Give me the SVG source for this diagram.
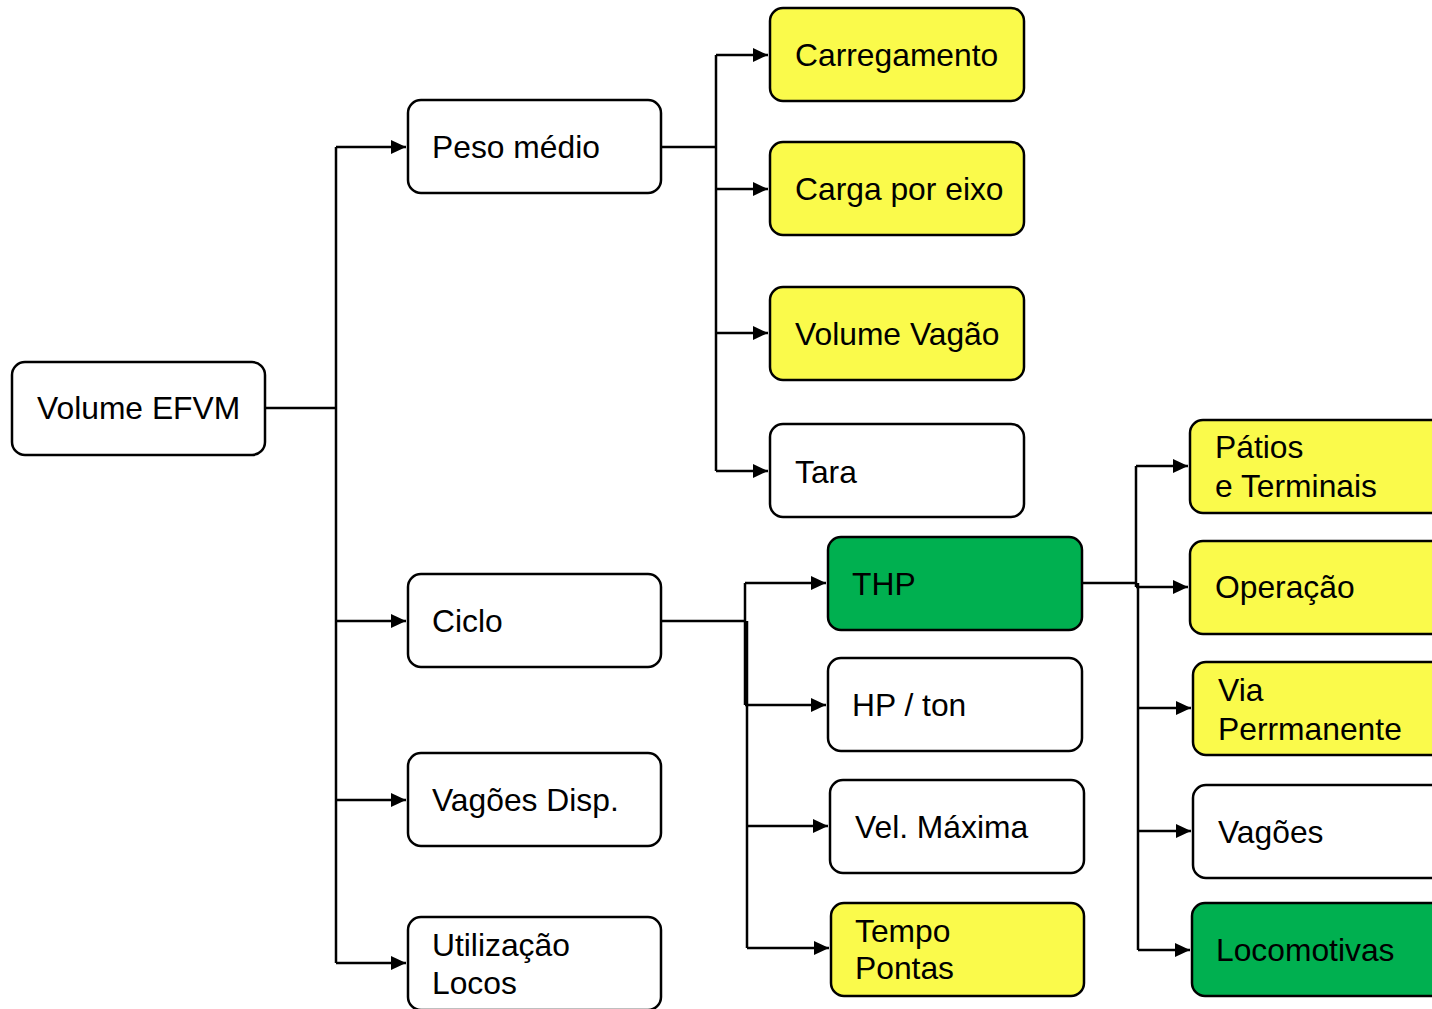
<svg xmlns="http://www.w3.org/2000/svg" width="1432" height="1009" viewBox="0 0 1432 1009">
<defs>
<marker id="arr" markerWidth="15" markerHeight="14" refX="15" refY="7" orient="auto" markerUnits="userSpaceOnUse">
<path d="M0,0 L15,7 L0,14 Z" fill="#000"/>
</marker>
<style>
.box{stroke:#000;stroke-width:2.5;fill:#fff}
.y{fill:#FAFA4B}
.g{fill:#00B050}
text{font-family:"Liberation Sans",Arial,sans-serif;font-size:31.8px;fill:#000}
.c{fill:none;stroke:#000;stroke-width:2.5}
</style>
</defs>
<rect width="1432" height="1009" fill="#fff"/>
<g id="connectors">
<path class="c" d="M265,408 H336 M336,147 V963"/>
<path class="c" d="M336,147 H406" marker-end="url(#arr)"/>
<path class="c" d="M336,621 H406" marker-end="url(#arr)"/>
<path class="c" d="M336,800 H406" marker-end="url(#arr)"/>
<path class="c" d="M336,963 H406" marker-end="url(#arr)"/>
<path class="c" d="M661,147 H716 M716,55 V471"/>
<path class="c" d="M716,55 H768" marker-end="url(#arr)"/>
<path class="c" d="M716,189 H768" marker-end="url(#arr)"/>
<path class="c" d="M716,333 H768" marker-end="url(#arr)"/>
<path class="c" d="M716,471 H768" marker-end="url(#arr)"/>
<path class="c" d="M661,621 H746 M745,583 V705 M747,621 V948"/>
<path class="c" d="M745,583 H826" marker-end="url(#arr)"/>
<path class="c" d="M745,705 H826" marker-end="url(#arr)"/>
<path class="c" d="M747,826 H828" marker-end="url(#arr)"/>
<path class="c" d="M747,948 H829" marker-end="url(#arr)"/>
<path class="c" d="M1082,583 H1137 M1136,466 V587 M1138,583 V950"/>
<path class="c" d="M1136,466 H1188" marker-end="url(#arr)"/>
<path class="c" d="M1136,587 H1188" marker-end="url(#arr)"/>
<path class="c" d="M1138,708 H1191" marker-end="url(#arr)"/>
<path class="c" d="M1138,831 H1191" marker-end="url(#arr)"/>
<path class="c" d="M1138,950 H1190" marker-end="url(#arr)"/>
</g>
<g id="n-volume-efvm"><rect class="box" x="12" y="362" width="253" height="93" rx="13"/><text x="37" y="419">Volume EFVM</text></g>
<g id="n-peso-medio"><rect class="box" x="408" y="100" width="253" height="93" rx="13"/><text x="432" y="158">Peso médio</text></g>
<g id="n-ciclo"><rect class="box" x="408" y="574" width="253" height="93" rx="13"/><text x="432" y="632">Ciclo</text></g>
<g id="n-vagoes-disp"><rect class="box" x="408" y="753" width="253" height="93" rx="13"/><text x="432" y="811">Vagões Disp.</text></g>
<g id="n-utilizacao-locos"><rect class="box" x="408" y="917" width="253" height="93" rx="13"/><text x="432" y="956">Utilização</text><text x="432" y="994">Locos</text></g>
<g id="n-carregamento"><rect class="box y" x="770" y="8" width="254" height="93" rx="13"/><text x="795" y="66">Carregamento</text></g>
<g id="n-carga-por-eixo"><rect class="box y" x="770" y="142" width="254" height="93" rx="13"/><text x="795" y="200">Carga por eixo</text></g>
<g id="n-volume-vagao"><rect class="box y" x="770" y="287" width="254" height="93" rx="13"/><text x="795" y="345">Volume Vagão</text></g>
<g id="n-tara"><rect class="box" x="770" y="424" width="254" height="93" rx="13"/><text x="795" y="483">Tara</text></g>
<g id="n-thp"><rect class="box g" x="828" y="537" width="254" height="93" rx="13"/><text x="852" y="595">THP</text></g>
<g id="n-hp-ton"><rect class="box" x="828" y="658" width="254" height="93" rx="13"/><text x="852" y="716">HP / ton</text></g>
<g id="n-vel-maxima"><rect class="box" x="830" y="780" width="254" height="93" rx="13"/><text x="855" y="838">Vel. Máxima</text></g>
<g id="n-tempo-pontas"><rect class="box y" x="831" y="903" width="253" height="93" rx="13"/><text x="855" y="942">Tempo</text><text x="855" y="979">Pontas</text></g>
<g id="n-patios"><rect class="box y" x="1190" y="420" width="270" height="93" rx="13"/><text x="1215" y="458">Pátios</text><text x="1215" y="497">e Terminais</text></g>
<g id="n-operacao"><rect class="box y" x="1190" y="541" width="270" height="93" rx="13"/><text x="1215" y="598">Operação</text></g>
<g id="n-via-permanente"><rect class="box y" x="1193" y="662" width="270" height="93" rx="13"/><text x="1218" y="701">Via</text><text x="1218" y="740">Perrmanente</text></g>
<g id="n-vagoes"><rect class="box" x="1193" y="785" width="270" height="93" rx="13"/><text x="1218" y="843">Vagões</text></g>
<g id="n-locomotivas"><rect class="box g" x="1192" y="903" width="270" height="93" rx="13"/><text x="1216" y="961">Locomotivas</text></g>
</svg>
